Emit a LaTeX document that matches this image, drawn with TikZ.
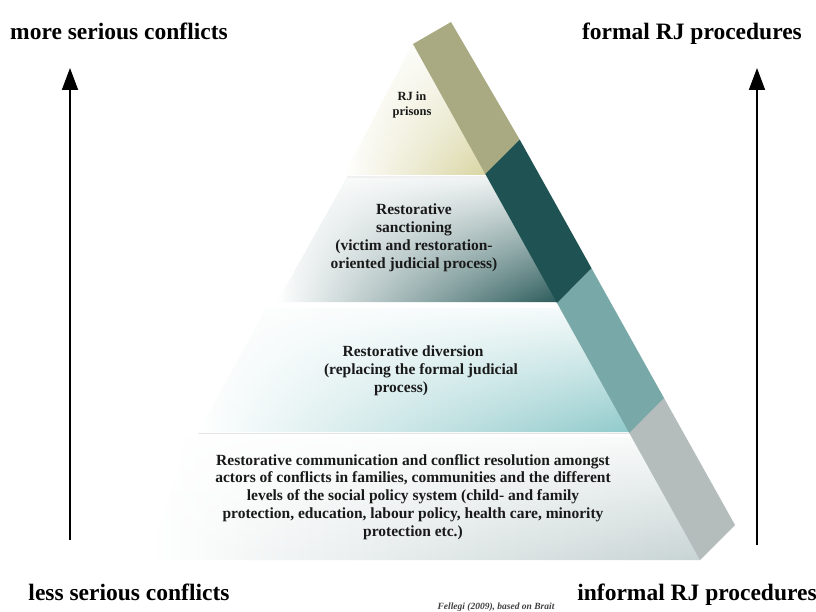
\documentclass[tikz,border=0pt]{standalone}
\usepackage{fontspec}
\setmainfont{Liberation Serif}
\usetikzlibrary{arrows.meta,fadings}
\tikzfading[name=topwhite, top color=transparent!10, bottom color=transparent!100]
\definecolor{bandA}{RGB}{169,169,130}
\definecolor{bandB}{RGB}{31,82,82}
\definecolor{bandC}{RGB}{121,168,168}
\definecolor{bandD}{RGB}{180,188,188}
\definecolor{lvA}{RGB}{212,208,150}
\definecolor{lvBm}{RGB}{200,206,206}
\definecolor{lvB}{RGB}{30,80,80}
\definecolor{lvCm}{RGB}{212,231,231}
\definecolor{lvC}{RGB}{140,200,201}
\definecolor{lvDm}{RGB}{236,240,240}
\definecolor{lvD}{RGB}{200,212,212}
\definecolor{txt}{RGB}{25,25,25}
\tikzset{
  lvtext/.style={font=\bfseries\fontsize{15.5}{17.9}\selectfont, align=center, text=txt, inner sep=0pt},
  smalltext/.style={font=\bfseries\fontsize{12.5}{14.5}\selectfont, align=center, text=txt, inner sep=0pt},
  sidelabel/.style={font=\bfseries\fontsize{23.5}{28}\selectfont, text=black, inner sep=0pt, anchor=base},
  whitefade/.style={fill=white, path fading=topwhite},
  sepline/.style={draw=black!10, line width=1.2pt},
  bigarrow/.style={line width=1.7pt, -{Triangle[width=16pt,length=22pt]}},
}
\begin{document}
\begin{tikzpicture}[x=1pt,y=-1pt]
\useasboundingbox (0,0) rectangle (816,612);
\fill[white] (0,0) rectangle (816,612);

% ---- levels ----
\shade[left color=white, right color=lvA] (344,175) -- (413,44) -- (505,175) -- cycle;
\fill[whitefade] (344,175) -- (413,44) -- (505,175) -- cycle;

\shade[left color=white, middle color=lvBm, right color=lvB] (347,178) -- (507.5,178) -- (576.4,302) -- (277,302) -- cycle;
\fill[whitefade] (347,178) -- (507.5,178) -- (576.4,302) -- (277,302) -- cycle;

\shade[left color=white, middle color=lvCm, right color=lvC] (267,308) -- (579.8,308) -- (648.7,432) -- (198,432) -- cycle;
\fill[whitefade] (267,308) -- (579.8,308) -- (648.7,432) -- (198,432) -- cycle;

\shade[left color=white, middle color=lvDm, right color=lvD] (187,437) -- (651.5,437) -- (700,560) -- (150,560) -- cycle;
\fill[whitefade] (187,437) -- (651.5,437) -- (700,560) -- (150,560) -- cycle;

\draw[sepline] (198,433.5) -- (640,433.5);
\draw[sepline, draw=black!6] (347,177) -- (500,177);

% ---- band ----
\fill[bandA] (413,44) -- (451,22) -- (519.7,139.6) -- (485.3,174) -- cycle;
\fill[bandB] (485.3,174) -- (519.7,139.6) -- (591.6,268.4) -- (557,303) -- cycle;
\fill[bandC] (557,303) -- (591.6,268.4) -- (664.1,398.2) -- (629.3,433) -- cycle;
\fill[bandD] (629.3,433) -- (664.1,398.2) -- (735,525) -- (700,560) -- cycle;

% ---- level texts ----
\node[smalltext] (t1) at (412,105) {RJ in\\prisons};
\node[lvtext] (t2) at (414,238) {Restorative\\sanctioning\\(victim and restoration-\\oriented judicial process)};
\node[lvtext] (t3) at (413,371) {Restorative diversion\\\hspace*{16pt}(replacing the formal judicial\\process)\hspace*{24pt}};
\node[lvtext] (t4) at (413,497) {Restorative communication and conflict resolution amongst\\actors of conflicts in families, communities and the different\\levels of the social policy system (child- and family\\protection, education, labour policy, health care, minority\\protection etc.)};

% ---- side labels ----
\node[sidelabel] (ml) at (119,40) {more serious conflicts};
\node[sidelabel] (fl) at (692,40) {formal RJ procedures};
\node[sidelabel] (ll) at (129,600) {less serious conflicts};
\node[sidelabel] (il) at (697,600) {informal RJ procedures};
\node[font=\bfseries\itshape\fontsize{9.5}{11}\selectfont, inner sep=0pt, anchor=base, text=black!75] (cap) at (496,609) {Fellegi (2009), based on Brait};

% ---- arrows ----
\coordinate (la0) at (70,540);
\coordinate (la1) at (70,68);
\coordinate (ra0) at (757,545);
\coordinate (ra1) at (757,68);
\draw[bigarrow] (la0) -- (la1);
\draw[bigarrow] (ra0) -- (ra1);
\end{tikzpicture}
\end{document}
